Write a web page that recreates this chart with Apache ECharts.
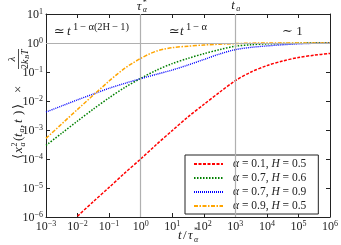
<!DOCTYPE html>
<html><head><meta charset="utf-8">
<script src="https://cdn.jsdelivr.net/npm/echarts@6/dist/echarts.min.js"></script>
<style>html,body{margin:0;padding:0;background:#fff}#c{width:341px;height:245px}</style>
</head><body><div id="c"></div>
<script>
const SERIF = "'Liberation Serif', 'DejaVu Serif', serif";
// t / tau* sample points and values
const tRed    = [1e-2, 3.16e-2, 1e-1, 0.316, 1, 3.16, 10, 31.6, 100, 316, 1000, 3162, 1e4, 3.16e4, 1e5, 3.16e5, 1e6];
const yRed    = [1.07e-6, 3.39e-6, 1.05e-5, 3.31e-5, 1.0e-4, 3.16e-4, 9.55e-4, 2.82e-3, 7.59e-3, 2.0e-2, 5.01e-2, 0.1, 0.166, 0.240, 0.316, 0.380, 0.437];
const tGreen  = [1e-3, 3.16e-3, 1e-2, 3.16e-2, 1e-1, 0.316, 1, 3.16, 10, 31.6, 100, 316, 1000, 3162, 1e4, 3.16e4, 1e5, 3.16e5, 1e6];
const yGreen  = [2.95e-4, 7.76e-4, 2.04e-3, 5.25e-3, 1.29e-2, 2.95e-2, 6.03e-2, 0.115, 0.195, 0.295, 0.427, 0.589, 0.776, 0.871, 0.933, 0.955, 0.977, 1.0, 1.0];
const tBlue   = [1e-3, 3.16e-3, 1e-2, 3.16e-2, 1e-1, 0.316, 1, 3.16, 10, 31.6, 100, 316, 1000, 3162, 1e4, 3.16e4, 1e5, 3.16e5, 1e6];
const yBlue   = [4.17e-3, 6.76e-3, 1.10e-2, 1.74e-2, 2.75e-2, 4.07e-2, 5.89e-2, 8.32e-2, 0.117, 0.174, 0.269, 0.417, 0.589, 0.708, 0.794, 0.871, 0.933, 0.977, 1.0];
const tOrange = [1e-3, 1e-2, 1e-1, 0.178, 0.316, 0.562, 1, 1.78, 3.16, 5.62, 10, 31.6, 100, 1000, 1e4, 1e5, 1e6];
const yOrange = [5.13e-4, 5.13e-3, 4.9e-2, 0.0832, 0.135, 0.204, 0.295, 0.407, 0.525, 0.617, 0.692, 0.776, 0.851, 0.955, 1.0, 1.0, 1.0];
const alphas = [0.1, 0.7, 0.7, 0.9];
const hurst  = [0.5, 0.6, 0.9, 0.5];
const xTickExp = [-3, -2, -1, 0, 1, 2, 3, 4, 5, 6];
const yTickExp = [-6, -5, -4, -3, -2, -1, 0, 1];
const tauStar = 1, tAge = 1000, plateau = 1;

const curves = [[tRed, yRed], [tGreen, yGreen], [tBlue, yBlue], [tOrange, yOrange]];
const colors = ['#ff0000', '#008000', '#0000ff', '#ffa500'];
const dashes = [[3, 1.5], [1.5, 1.5], [1, 1], [4, 1.5, 1.5, 1.5]];
const widths = [1.5, 1.5, 1.4, 1.5];
const names = curves.map((c, i) => 'α = ' + alphas[i] + ', H = ' + hurst[i]);

function powLabel(v, exps) {
  const e = Math.round(Math.log10(v));
  if (exps.indexOf(e) < 0) return '';
  return '{b|10}{s|' + (e < 0 ? '\u2212' + (-e) : e) + '}';
}
const labelRich = {
  b: {fontFamily: SERIF, fontSize: 12, color: '#222', verticalAlign: 'bottom'},
  s: {fontFamily: SERIF, fontSize: 8, color: '#222', verticalAlign: 'top', padding: [0, 0, 5, 0]}
};

const chart = echarts.init(document.getElementById('c'), null, {renderer: 'canvas'});
const axisCommon = {
  type: 'log', logBase: 10,
  axisLine: {show: true, lineStyle: {color: '#222', width: 1}},
  axisTick: {show: true, inside: true, length: 4, lineStyle: {color: '#222', width: 1}},
  minorTick: {show: false}, splitLine: {show: false}
};
const series = curves.map((c, i) => ({
  name: names[i], type: 'line', xAxisIndex: 0, yAxisIndex: 0,
  data: c[0].map((t, j) => [t, c[1][j]]),
  symbol: 'none', showSymbol: false, smooth: 0.3, z: 3,
  lineStyle: {color: colors[i], width: widths[i], type: dashes[i]},
  itemStyle: {color: colors[i]}
}));
series.unshift({
  name: 'guides', type: 'line', xAxisIndex: 0, yAxisIndex: 0, data: [], z: 1,
  markLine: {silent: true, symbol: 'none', animation: false,
    lineStyle: {color: '#b0b0b0', width: 1.2, type: 'solid'}, label: {show: false},
    data: [{xAxis: tauStar}, {xAxis: tAge}, {yAxis: plateau}]}
});

chart.setOption({
  animation: false,
  grid: {left: 46, right: 8, top: 14, bottom: 28},
  xAxis: [
    Object.assign({}, axisCommon, {position: 'bottom', min: 1e-3, max: 1e6,
      axisLabel: {margin: 3, formatter: v => powLabel(v, xTickExp), rich: labelRich}}),
    Object.assign({}, axisCommon, {position: 'top', min: 1e-3, max: 1e6, axisLabel: {show: false}})
  ],
  yAxis: [
    Object.assign({}, axisCommon, {position: 'left', min: 1e-6, max: 10,
      axisLabel: {margin: 3, formatter: v => powLabel(v, yTickExp), rich: labelRich}}),
    Object.assign({}, axisCommon, {position: 'right', min: 1e-6, max: 10, axisLabel: {show: false}})
  ],
  legend: {
    orient: 'vertical', left: 185, top: 155, data: names,
    itemWidth: 29, itemHeight: 10, itemGap: 2, padding: [3, 12, 2, 8],
    backgroundColor: '#fff', borderColor: '#222', borderWidth: 1, borderRadius: 0,
    itemStyle: {opacity: 0},
    formatter: n => {
      const i = names.indexOf(n);
      return '{i|α} = ' + alphas[i] + ', {i|H} = ' + hurst[i];
    },
    textStyle: {fontFamily: SERIF, fontSize: 11.5, lineHeight: 12, color: '#222', padding: [0, 0, 0, 5],
      rich: {i: {fontFamily: SERIF, fontSize: 11.5, lineHeight: 12, fontStyle: 'italic', color: '#222'}}}
  },
  series: series
});

function txt(x, y, s, size, it, align) {
  return {type: 'text', x: x, y: y, silent: true, z: 100,
    style: {text: s, fontSize: size, fontFamily: SERIF, fontStyle: it ? 'italic' : 'normal',
      fill: '#222', align: align || 'left', verticalAlign: 'middle'}};
}
const tauX = chart.convertToPixel({xAxisIndex: 0}, tauStar);
const taX = chart.convertToPixel({xAxisIndex: 0}, tAge);

chart.setOption({
  graphic: [
    // y-axis name
    {type: 'group', x: 19, y: 158, rotation: Math.PI / 2, children: [
      txt(-1, 0, '⟨', 13), txt(5, 0, 'x', 13, true), txt(11.5, -4, '2', 8), txt(11.5, 4, 'a', 8, true),
      txt(17, 0, '(', 13), txt(21, 0, 't', 13, true), txt(25.5, 3, 'a', 8, true), txt(30, 0, ',', 13),
      txt(35, 0, 't', 13, true), txt(43, 0, ')', 13), txt(49, 0, '⟩', 13), txt(65, 0, '×', 13),
      txt(99, -6.5, 'λ', 11, true, 'center'),
      {type: 'rect', silent: true, shape: {x: 89, y: -1, width: 20, height: 0.8}, style: {fill: '#222'}},
      txt(89, 6, '2', 10), txt(94, 6, 'k', 10, true), txt(99, 8, 'B', 7, true), txt(103, 6, 'T', 10, true)
    ]},
    // x-axis name
    {type: 'group', x: 178, y: 236, children: [
      txt(0, 0, 't', 13, true), txt(5, 0, '/', 13), txt(10, 0, 'τ', 13, true),
      txt(16, -5, '*', 8), txt(16, 4, 'α', 8, true)
    ]},
    // tau* and t_a labels above the frame
    {type: 'group', x: tauX, y: 7, children: [
      txt(-4, 0, 'τ', 13, true), txt(2, -4, '*', 8), txt(2, 3, 'α', 8, true)
    ]},
    {type: 'group', x: taX, y: 6, children: [
      txt(-4, 0, 't', 13, true), txt(1, 3, 'a', 8, true)
    ]},
    // regime annotations
    {type: 'group', x: 54, y: 32, children: [
      txt(0, 0, '≃', 13), txt(13, 0, 't', 13, true),
      txt(19, -5, '1\u2009\u2212\u2009α(2H\u2009\u2212\u20091)', 10.5, false)
    ]},
    {type: 'group', x: 169, y: 32, children: [
      txt(0, 0, '≃', 13), txt(11, 0, 't', 13, true), txt(17, -5, '1\u2009\u2212\u2009α', 10.5, false)
    ]},
    {type: 'group', x: 282, y: 32, children: [
      txt(0, 0, '∼ 1', 13)
    ]}
  ]
});
</script></body></html>
